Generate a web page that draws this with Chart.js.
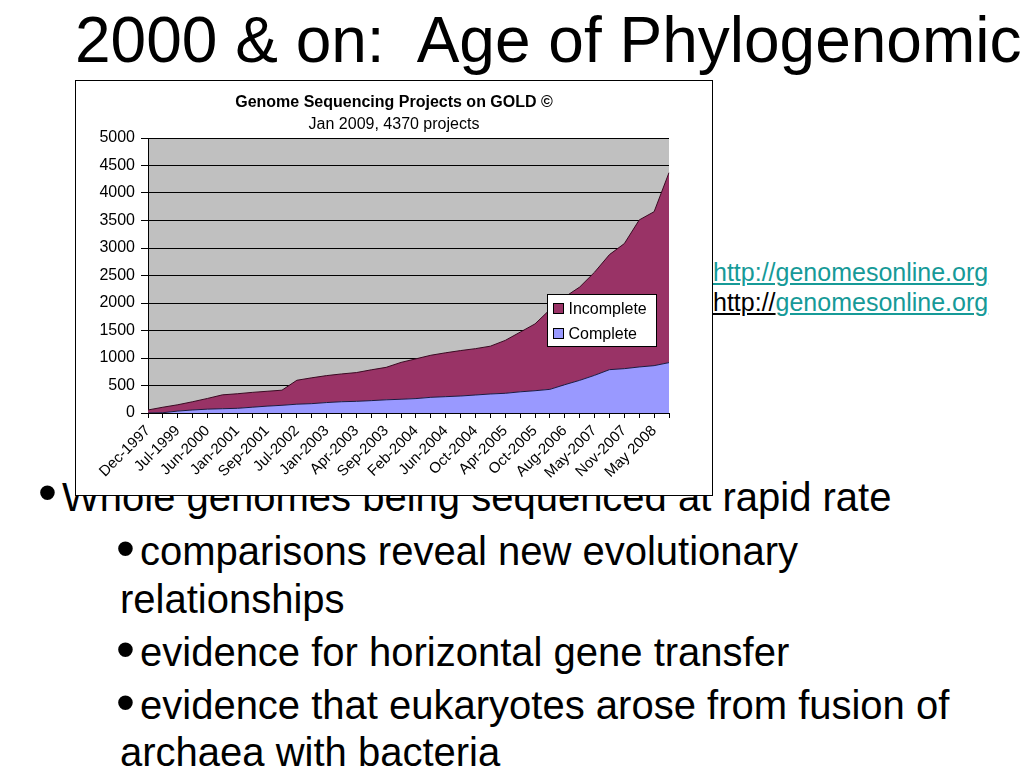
<!DOCTYPE html>
<html>
<head>
<meta charset="utf-8">
<script src="https://cdn.jsdelivr.net/npm/chart.js@4.4.1/dist/chart.umd.min.js"></script>
<style>
  html, body { margin:0; padding:0; background:#fff; }
  body { width:1024px; height:768px; overflow:hidden; position:relative; font-family:"Liberation Sans", Arial, sans-serif; color:#000; }
  .t { position:absolute; white-space:pre; line-height:1; }
  #title { left:75px; top:8px; font-size:64px; }
  .lnk { font-size:25px; left:713px; }
  .teal { color:#169a98; text-decoration:underline; text-decoration-color:#169a98; }
  .blk { color:#000; text-decoration:underline; }
  .b { font-size:40px; }
  .bul { font-size:54px; }
  #box { position:absolute; left:75px; top:80px; width:638px; height:416px; box-sizing:border-box; border:1px solid #000; background:#fff; z-index:2; }
  #c { display:block; }
</style>
</head>
<body>
<div class="t" id="title">2000 &amp; on:  Age of Phylogenomic</div>
<div class="t lnk" style="top:260px;"><span class="teal">http://genomesonline.org</span></div>
<div class="t lnk" style="top:290px;"><span class="blk">http://</span><span class="teal">genomesonline.org</span></div>

<div class="t bul" style="left:38px; top:465px;">•</div>
<div class="t b" style="left:62px; top:477px;">Whole genomes being sequenced at rapid rate</div>
<div class="t bul" style="left:116px; top:521px;">•</div>
<div class="t b" style="left:140px; top:531px;">comparisons reveal new evolutionary</div>
<div class="t b" style="left:120px; top:579px;">relationships</div>
<div class="t bul" style="left:116px; top:622px;">•</div>
<div class="t b" style="left:140px; top:632px;">evidence for horizontal gene transfer</div>
<div class="t bul" style="left:116px; top:675px;">•</div>
<div class="t b" style="left:140px; top:685px;">evidence that eukaryotes arose from fusion of</div>
<div class="t b" style="left:120px; top:732px;">archaea with bacteria</div>

<div id="box"><canvas id="c" width="636" height="414"></canvas></div>

<script>
// ---- data ----
const chartTitle = "Genome Sequencing Projects on GOLD \u00A9";
const chartSubtitle = "Jan 2009, 4370 projects";
// labelled categories (every second point is labelled on the axis)
const tickLabels = ["Dec-1997","Jul-1999","Jun-2000","Jan-2001","Sep-2001","Jul-2002","Jan-2003","Apr-2003","Sep-2003","Feb-2004","Jun-2004","Oct-2004","Apr-2005","Oct-2005","Aug-2006","May-2007","Nov-2007","May 2008"];
// 36 points; unlabelled points have empty names
const categories = [
  "Dec-1997","","Jul-1999","","Jun-2000","","Jan-2001","","Sep-2001","","Jul-2002","","Jan-2003","","Apr-2003","","Sep-2003","",
  "Feb-2004","","Jun-2004","","Oct-2004","","Apr-2005","","Oct-2005","","Aug-2006","","May-2007","","Nov-2007","","May 2008",""
];
const completeValues = [0,5,35,55,70,78,85,105,125,140,160,170,190,205,212,225,240,250,262,285,297,309,327,346,358,385,405,430,515,594,685,788,806,837,861,916];
const incompleteValues = [55,100,115,150,195,252,265,270,270,275,435,470,490,505,523,560,590,670,723,765,798,826,843,869,962,1085,1215,1450,1595,1696,1875,2092,2274,2673,2799,3454];
const yTicks = [0,500,1000,1500,2000,2500,3000,3500,4000,4500,5000];

const FONT = '"Liberation Sans", Arial, sans-serif';

const plotBg = {
  id: 'plotBg',
  beforeDraw(chart) {
    const {ctx, chartArea: a} = chart;
    ctx.save();
    ctx.fillStyle = '#C0C0C0';
    ctx.fillRect(a.left, a.top, a.right - a.left, a.bottom - a.top);
    ctx.restore();
  }
};

const boxLegend = {
  id: 'boxLegend',
  afterDraw(chart) {
    const {ctx, chartArea: a} = chart;
    const w = 109, h = 52;
    const x = Math.round(a.right - 13 - w) + 0.5;
    const y = Math.round(a.top + 156) + 0.5;
    ctx.save();
    ctx.fillStyle = '#fff';
    ctx.fillRect(x, y, w, h);
    ctx.strokeStyle = '#000';
    ctx.lineWidth = 1;
    ctx.strokeRect(x, y, w, h);
    const items = chart.data.datasets.slice().reverse();
    ctx.font = '16px ' + FONT;
    ctx.textBaseline = 'middle';
    items.forEach((ds, i) => {
      const cy = y + 14 + i * 25;
      ctx.fillStyle = ds.backgroundColor;
      ctx.fillRect(x + 6, cy - 5, 10, 10);
      ctx.strokeStyle = '#000';
      ctx.strokeRect(x + 6, cy - 5, 10, 10);
      ctx.fillStyle = '#000';
      ctx.fillText(ds.label, x + 21, cy + 1);
    });
    ctx.restore();
  }
};

new Chart(document.getElementById('c'), {
  type: 'line',
  data: {
    labels: categories,
    datasets: [
      { label: 'Complete', data: completeValues, backgroundColor: '#9999FF', borderColor: '#1a1a40', borderWidth: 1, fill: 'origin', pointRadius: 0, tension: 0 },
      { label: 'Incomplete', data: incompleteValues, backgroundColor: '#993366', borderColor: '#3a0a22', borderWidth: 1, fill: '-1', pointRadius: 0, tension: 0 }
    ]
  },
  options: {
    responsive: false,
    devicePixelRatio: 1,
    animation: false,
    layout: { padding: { left: 0, right: 0, top: 0, bottom: 0 } },
    plugins: {
      legend: { display: false },
      tooltip: { enabled: false },
      title: { display: true, text: chartTitle, color: '#000', font: { family: FONT, size: 16, weight: 'bold', lineHeight: 1.2 }, padding: { top: 12.4, bottom: 0 } },
      subtitle: { display: true, text: chartSubtitle, color: '#000', font: { family: FONT, size: 16, lineHeight: 1.2 }, padding: { top: 2.8, bottom: 3.4 } }
    },
    scales: {
      x: {
        type: 'category',
        offset: false,
        grid: { display: true, drawOnChartArea: false, drawTicks: true, tickLength: 5, tickColor: '#000' },
        border: { display: true, color: '#000', width: 1 },
        ticks: { autoSkip: false, maxRotation: 45, minRotation: 45, padding: 4, color: '#000', font: { family: FONT, size: 15 } },
        afterFit(scale) { scale.height = 82; }
      },
      y: {
        stacked: true,
        min: 0, max: 5000,
        afterBuildTicks(scale) { scale.ticks = yTicks.map(v => ({ value: v })); },
        grid: { color: '#000', lineWidth: 1, drawTicks: true, tickLength: 7, tickColor: '#000' },
        border: { display: true, color: '#000', width: 1 },
        ticks: { padding: 6, color: '#000', font: { family: FONT, size: 16 }, callback: (v) => String(v) },
        afterFit(scale) { scale.width = 72; }
      },
      spacer: {
        type: 'linear',
        position: 'right',
        display: true,
        grid: { display: false, drawTicks: false },
        border: { display: false },
        ticks: { display: false },
        afterFit(scale) { scale.width = 43; }
      }
    }
  },
  plugins: [plotBg, boxLegend]
});
</script>
</body>
</html>
